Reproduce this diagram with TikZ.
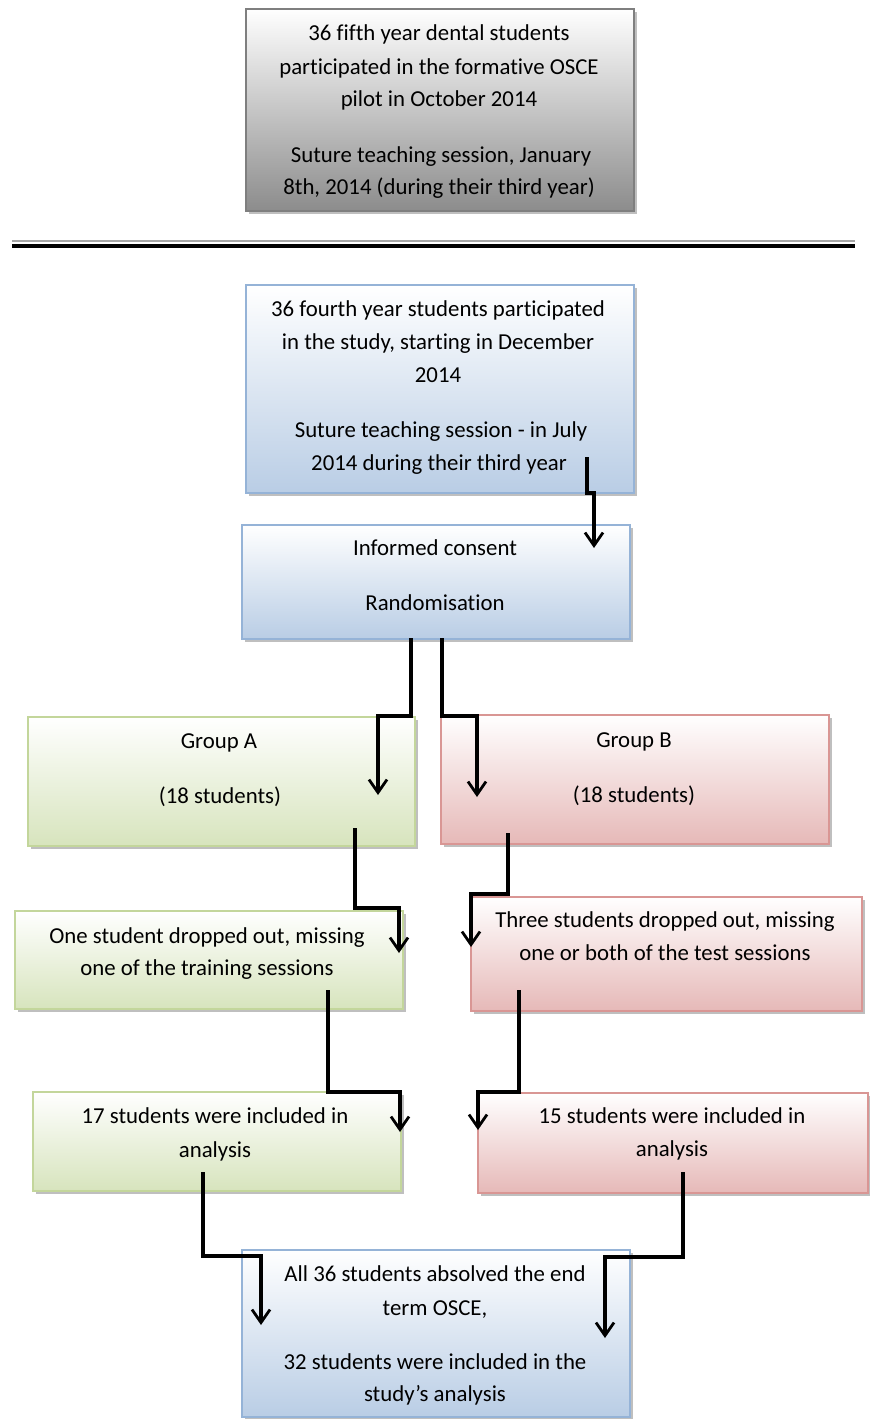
\documentclass[tikz,border=0pt]{standalone}
\usepackage{fontspec}
\setmainfont{Carlito}[Ligatures={NoCommon}]
\usetikzlibrary{arrows.meta,shadows}
\definecolor{bluebd}{HTML}{95B3D7}
\definecolor{bluebot}{HTML}{B9CDE5}
\definecolor{greenbd}{HTML}{C3D69B}
\definecolor{greenbot}{HTML}{D7E4BD}
\definecolor{redbd}{HTML}{D99694}
\definecolor{redbot}{HTML}{E6B9B8}
\definecolor{graybd}{HTML}{7F7F7F}
\definecolor{graybot}{HTML}{8C8C8C}
\definecolor{txtc}{HTML}{000000}
\tikzset{
  box/.style={anchor=north west, inner sep=0pt, line width=1.6pt,
    drop shadow={shadow xshift=3pt, shadow yshift=-3pt, fill=black, opacity=0.25}},
  bluebox/.style={box, draw=bluebd, top color=white, bottom color=bluebot},
  greenbox/.style={box, draw=greenbd, top color=white, bottom color=greenbot},
  redbox/.style={box, draw=redbd, top color=white, bottom color=redbot},
  graybox/.style={box, draw=graybd, top color=white, bottom color=graybot},
  txt/.style={anchor=base, inner sep=0pt, text=txtc, font=\fontsize{22.8}{26}\selectfont},
  conn/.style={line width=3.2pt, -{Straight Barb[length=13pt,width=18pt,line width=2.8pt]}}
}
\begin{document}
\begin{tikzpicture}[x=1pt,y=-1pt]
\useasboundingbox (0,0) rectangle (870,1419);
% boxes
\node[graybox, minimum width=388pt, minimum height=202pt] (top) at (245,8) {};
\node[bluebox, minimum width=388pt, minimum height=208pt] (b2) at (245,284) {};
\node[bluebox, minimum width=388pt, minimum height=114pt] (b3) at (241,524) {};
\node[greenbox, minimum width=387pt, minimum height=129pt] (gA) at (27,716) {};
\node[redbox, minimum width=388pt, minimum height=129pt] (gB) at (440,714) {};
\node[greenbox, minimum width=388pt, minimum height=98pt] (dA) at (14,910) {};
\node[redbox, minimum width=391pt, minimum height=114pt] (dB) at (470,896) {};
\node[greenbox, minimum width=368pt, minimum height=99pt] (iA) at (32,1091) {};
\node[redbox, minimum width=390pt, minimum height=100pt] (iB) at (477,1092) {};
\node[bluebox, minimum width=388pt, minimum height=167pt] (fin) at (241,1249) {};
% separator
\draw[line width=1.5pt, gray!70] (12,241) -- (855,241);
\draw[line width=4.5pt, black] (12,246) -- (855,246);
% texts
\node[txt] (t1) at (439,40) {36 fifth year dental students};
\node[txt] (t2) at (439,74) {participated in the formative OSCE};
\node[txt] (t3) at (439,106) {pilot in October 2014};
\node[txt] (t4) at (441,162) {Suture teaching session, January};
\node[txt] (t5) at (439,194) {8th, 2014 (during their third year)};
\node[txt] (u1) at (438,316) {36 fourth year students participated};
\node[txt] (u2) at (438,349) {in the study, starting in December};
\node[txt] (u3) at (438,382) {2014};
\node[txt] (u4) at (441,437) {Suture teaching session - in July};
\node[txt] (u5) at (439,470) {2014 during their third year};
\node[txt] (v1) at (435,555) {Informed consent};
\node[txt] (v2) at (435,610) {Randomisation};
\node[txt] (ga1) at (219,748) {Group A};
\node[txt] (ga2) at (220,803) {(18 students)};
\node[txt] (gb1) at (634,747) {Group B};
\node[txt] (gb2) at (634,802) {(18 students)};
\node[txt] (da1) at (207,943) {One student dropped out, missing};
\node[txt] (da2) at (207,975) {one of the training sessions};
\node[txt] (db1) at (665,927) {Three students dropped out, missing};
\node[txt] (db2) at (665,960) {one or both of the test sessions};
\node[txt] (ia1) at (215,1123) {17 students were included in};
\node[txt] (ia2) at (215,1157) {analysis};
\node[txt] (ib1) at (672,1123) {15 students were included in};
\node[txt] (ib2) at (672,1156) {analysis};
\node[txt] (f1) at (435,1281) {All 36 students absolved the end};
\node[txt] (f2) at (435,1315) {term OSCE,};
\node[txt] (f3) at (435,1369) {32 students were included in the};
\node[txt] (f4) at (435,1401) {study’s analysis};
% connector endpoints
\coordinate (s1) at (587,457); \coordinate (e1) at (594,548);
\coordinate (s2) at (411,638); \coordinate (e2) at (378,795);
\coordinate (s3) at (442,638); \coordinate (e3) at (477,797);
\coordinate (s4) at (355,828); \coordinate (e4) at (399,953);
\coordinate (s5) at (508,833); \coordinate (e5) at (471,947);
\coordinate (s6) at (328,990); \coordinate (e6) at (400,1132);
\coordinate (s7) at (519,990); \coordinate (e7) at (478,1130);
\coordinate (s8) at (203,1172); \coordinate (e8) at (261,1325);
\coordinate (s9) at (683,1172); \coordinate (e9) at (605,1338);
% connectors
\draw[conn] (s1) -- (587,493) -| (e1);
\draw[conn] (s2) -- (411,716) -| (e2);
\draw[conn] (s3) -- (442,716) -| (e3);
\draw[conn] (s4) -- (355,908) -| (e4);
\draw[conn] (s5) -- (508,894) -| (e5);
\draw[conn] (s6) -- (328,1092) -| (e6);
\draw[conn] (s7) -- (519,1092) -| (e7);
\draw[conn] (s8) -- (203,1256) -| (e8);
\draw[conn] (s9) -- (683,1257) -| (e9);
\end{tikzpicture}
\end{document}
